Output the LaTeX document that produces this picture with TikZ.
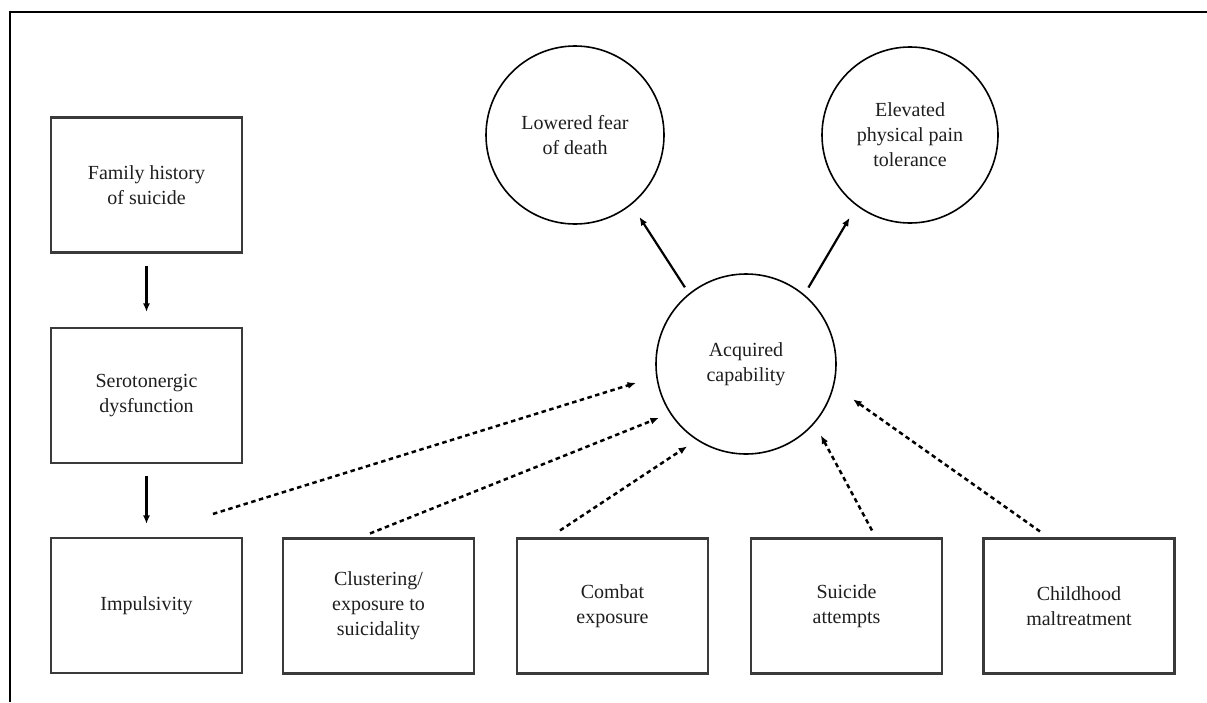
\documentclass[tikz,border=0pt]{standalone}
\usepackage{fontspec}
\setmainfont{Liberation Serif}
\usetikzlibrary{arrows.meta}
\definecolor{boxline}{HTML}{3A3A3A}
\definecolor{txt}{HTML}{1E1E1E}
\tikzset{
  stepbox/.style={draw=boxline, line width=2.1pt, minimum width=191pt, minimum height=135pt, inner sep=0pt, align=center, text=txt, font=\fontsize{20}{25}\selectfont},
  bubble/.style={draw=black, line width=1.6pt, circle, inner sep=0pt, align=center, text=txt, font=\fontsize{20}{25}\selectfont},
  solidarrow/.style={line width=2.2pt, -{Latex[length=8.5pt,width=7pt]}},
  dasharrow/.style={line width=2.5pt, dash pattern=on 4.5pt off 3.5pt, -{Latex[length=8.5pt,width=7pt]}},
  frameline/.style={line width=2.6pt, black}
}
\begin{document}
\begin{tikzpicture}[x=1pt,y=-1pt]
\useasboundingbox (0,0) rectangle (1207,702);
\coordinate (fl) at (10,702);
\coordinate (fc) at (10,12);
\coordinate (fr) at (1207,12);
\draw[frameline] (fl) -- (fc) -- (fr);

\node[stepbox] (fam) at (146.5,185) {Family history\\of suicide};
\node[stepbox] (ser) at (146.5,395.5) {Serotonergic\\dysfunction};
\node[stepbox] (imp) at (146.5,605.5) {Impulsivity};
\node[stepbox] (clu) at (378.5,606) {Clustering/\\exposure to\\suicidality};
\node[stepbox] (com) at (612.5,606) {Combat\\exposure};
\node[stepbox] (sui) at (846.5,606) {Suicide\\attempts};
\node[stepbox] (chi) at (1079,606) {Childhood\\maltreatment};

\node[bubble, minimum size=178pt] (low) at (575,135) {Lowered fear\\of death};
\node[bubble, minimum size=176pt] (ele) at (910,135) {Elevated\\physical pain\\tolerance};
\node[bubble, minimum size=180pt] (acq) at (746,364) {Acquired\\capability};

\draw[solidarrow, shorten <=12pt, shorten >=15pt] (fam.south) -- (ser.north);
\draw[solidarrow, shorten <=12pt, shorten >=13pt] (ser.south) -- (imp.north);

\draw[solidarrow, shorten <=7.3pt, shorten >=14.5pt] (acq.129.6) -- (low.-51.7);
\draw[solidarrow, shorten <=8pt, shorten >=13.7pt] (acq.50.8) -- (ele.-127.1);

\draw[dasharrow, shorten >=21pt] ([shift={(66.5,-23)}]imp.north) -- (acq.188.8);
\draw[dasharrow, shorten >=11.8pt] ([shift={(-8.5,-4)}]clu.north) -- (acq.213.4);
\draw[dasharrow, shorten >=11.3pt] ([shift={(-52.5,-7)}]com.north) -- (acq.237.3);
\draw[dasharrow, shorten >=13.3pt] ([shift={(25.5,-7)}]sui.north) -- (acq.-41.2);
\draw[dasharrow, shorten >=23.2pt] ([shift={(-39,-6)}]chi.north) -- (acq.-14.5);
\end{tikzpicture}
\end{document}
